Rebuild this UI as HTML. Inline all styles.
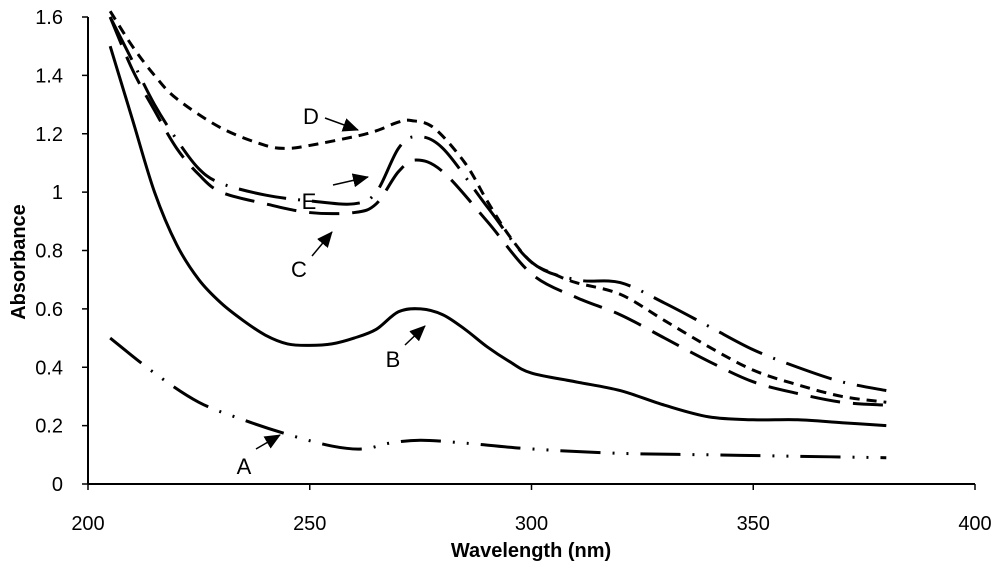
<!DOCTYPE html>
<html><head><meta charset="utf-8"><style>
html,body{margin:0;padding:0;background:#fff;width:1000px;height:571px;overflow:hidden}
svg{display:block;font-family:"Liberation Sans",Arial,sans-serif}
</style></head><body>
<svg id="chart" width="1000" height="571" viewBox="0 0 1000 571">
<defs>
<marker id="ahb" markerWidth="16" markerHeight="14" refX="15" refY="7" orient="auto" markerUnits="userSpaceOnUse" viewBox="0 0 16 14"><path d="M0,0 L16,7 L0,14 z" fill="#000"/></marker></defs>
<g id="axes"></g><g id="series"></g><g id="ann"></g>
</svg>
<script>
const xTicks=[200,250,300,350,400];
const yTicks=[0,0.2,0.4,0.6,0.8,1,1.2,1.4,1.6];
const yTickLabels=["0","0.2","0.4","0.6","0.8","1","1.2","1.4","1.6"];
const wlA=[205,215,225,235,245,255,262,268,275,285,300,320,340,360,380];
const absA=[0.5,0.38,0.28,0.22,0.17,0.13,0.12,0.14,0.15,0.14,0.12,0.105,0.1,0.095,0.09];
const wlB=[205,210,215,220,225,230,235,240,245,250,255,260,265,270,275,280,285,290,295,300,310,320,330,340,350,360,370,380];
const absB=[1.5,1.25,1.0,0.82,0.7,0.62,0.56,0.51,0.48,0.475,0.48,0.5,0.53,0.59,0.6,0.58,0.53,0.47,0.42,0.38,0.35,0.32,0.27,0.23,0.22,0.22,0.21,0.2];
const wlC=[205,210,215,220,225,230,240,250,260,265,270,274,280,290,300,310,320,330,340,350,360,370,380];
const absC=[1.6,1.42,1.28,1.15,1.06,1.0,0.96,0.93,0.93,0.96,1.07,1.11,1.07,0.9,0.72,0.64,0.58,0.5,0.42,0.35,0.31,0.28,0.27];
const wlD=[205,210,215,220,230,240,245,250,260,265,270,273,278,285,290,295,300,305,310,320,330,340,350,360,370,380];
const absD=[1.62,1.5,1.4,1.32,1.22,1.16,1.15,1.16,1.19,1.21,1.24,1.245,1.22,1.1,0.97,0.85,0.76,0.72,0.69,0.65,0.56,0.47,0.39,0.34,0.3,0.28];
const wlE=[205,210,215,220,225,230,240,250,260,265,270,274,280,290,300,310,320,330,340,350,360,370,380];
const absE=[1.6,1.45,1.3,1.18,1.08,1.03,0.99,0.97,0.96,1.0,1.15,1.19,1.15,0.95,0.76,0.7,0.69,0.62,0.54,0.46,0.4,0.35,0.32];

const NS="http://www.w3.org/2000/svg";
const X0=88,X1=975,Y0=484,Y1=17;
const sx=v=>X0+(v-200)/(400-200)*(X1-X0);
const sy=v=>Y0-(v-0)/(1.6-0)*(Y0-Y1);
function mk(tag,attrs,parent){const e=document.createElementNS(NS,tag);for(const k in attrs)e.setAttribute(k,attrs[k]);parent.appendChild(e);return e;}
const axes=document.getElementById('axes');
let e=mk('line',{x1:X0,y1:Y0,x2:X1,y2:Y0,stroke:'#000','stroke-width':2},axes);


e=mk('line',{x1:X0,y1:Y0,x2:X0,y2:Y1,stroke:'#000','stroke-width':2},axes);


xTicks.forEach(t=>{
  mk('line',{x1:sx(t),y1:Y0,x2:sx(t),y2:Y0+6,stroke:'#000','stroke-width':1.5},axes);
  const tx=mk('text',{x:sx(t),y:530,'text-anchor':'middle','font-size':20},axes);tx.textContent=t;
  
  
});
yTicks.forEach((t,i)=>{
  mk('line',{x1:X0-6,y1:sy(t),x2:X0,y2:sy(t),stroke:'#000','stroke-width':1.5},axes);
  const tx=mk('text',{x:63,y:sy(t)+7,'text-anchor':'end','font-size':20},axes);tx.textContent=yTickLabels[i];
  
  
});
let t=mk('text',{x:531,y:557,'text-anchor':'middle','font-size':20,'font-weight':'bold'},axes);t.textContent='Wavelength (nm)';


t=mk('text',{x:0,y:0,'text-anchor':'middle','font-size':20,'font-weight':'bold',transform:'translate(25,262) rotate(-90)'},axes);t.textContent='Absorbance';



function pathD(xs,ys){
  const p=xs.map((x,i)=>[sx(x),sy(ys[i])]);
  let d=`M${p[0][0]},${p[0][1]}`;
  for(let i=0;i<p.length-1;i++){
    const p0=p[i-1]||p[i],p1=p[i],p2=p[i+1],p3=p[i+2]||p[i+1];
    const c1=[p1[0]+(p2[0]-p0[0])/6,p1[1]+(p2[1]-p0[1])/6];
    const c2=[p2[0]-(p3[0]-p1[0])/6,p2[1]-(p3[1]-p1[1])/6];
    d+=` C${c1[0]},${c1[1]} ${c2[0]},${c2[1]} ${p2[0]},${p2[1]}`;
  }
  return d;
}
const ser=document.getElementById('series');
const defs=[[wlA,absA,'40 12 2 12 2 12','series-a'],[wlB,absB,'','series-b'],[wlC,absC,'30 13','series-c'],[wlD,absD,'10 7','series-d'],[wlE,absE,'48 12 2 12','series-e']];
defs.forEach(s=>{
  const p=mk('path',{d:pathD(s[0],s[1]),fill:'none',stroke:'#000','stroke-width':3},ser);
  if(s[2])p.setAttribute('stroke-dasharray',s[2]);
  
  
});
const ann=document.getElementById('ann');
const labels=[['D',311,124,325,118,358,130],['E',309,209,333,185,368,177],['C',299,277,312,256,332,232],['B',393,367,405,345,425,326],['A',244,474,256,449,280,435]];
labels.forEach(l=>{
  const tx=mk('text',{x:l[1],y:l[2],'text-anchor':'middle','font-size':22},ann);tx.textContent=l[0];
  
  
  const a=mk('line',{x1:l[3],y1:l[4],x2:l[5],y2:l[6],stroke:'#000','stroke-width':1.5,'marker-end':'url(#ahb)'},ann);
  
  
});
</script>
</body></html>
